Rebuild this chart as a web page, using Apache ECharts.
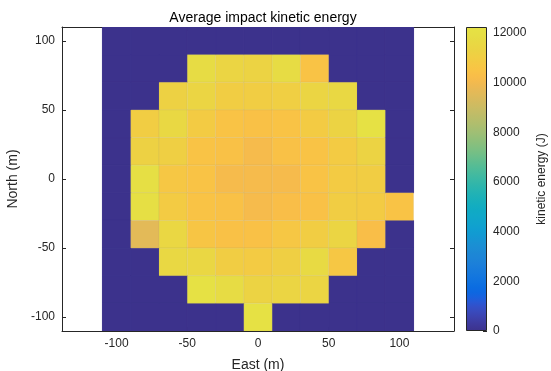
<!DOCTYPE html>
<html>
<head>
<meta charset="utf-8">
<title>Average impact kinetic energy</title>
<script src="https://cdn.jsdelivr.net/npm/echarts@6/dist/echarts.min.js"></script>
<style>
  html, body { margin: 0; padding: 0; background: #fff; }
  #chart { width: 551px; height: 371px; }
</style>
</head>
<body>
<div id="chart"></div>
<script>
// Cell centres (m) of the impact grid
const eastCenters = [-100, -80, -60, -40, -20, 0, 20, 40, 60, 80, 100];
const northCenters = [100, 80, 60, 40, 20, 0, -20, -40, -60, -80, -100];

// Average impact kinetic energy (J), one row per northCenters entry, one column per eastCenters entry
const energyN100 = [0, 0, 0, 0, 0, 0, 0, 0, 0, 0, 0];
const energyN80  = [0, 0, 0, 11800, 11400, 11300, 11800, 10500, 0, 0, 0];
const energyN60  = [0, 0, 11200, 11400, 11000, 11000, 11050, 11400, 11600, 0, 0];
const energyN40  = [0, 11000, 11600, 10900, 10500, 10400, 10500, 10900, 11300, 12100, 0];
const energyN20  = [0, 11200, 11100, 10500, 10400, 10100, 10400, 10500, 10900, 11300, 0];
const energyN0   = [0, 12000, 10700, 10500, 10100, 10100, 10100, 10500, 10900, 11000, 0];
const energyS20  = [0, 12000, 10900, 10500, 10400, 10100, 10300, 10400, 11000, 10900, 10500];
const energyS40  = [0, 9600, 11500, 10600, 10400, 10400, 10700, 11000, 11400, 10300, 0];
const energyS60  = [0, 0, 11600, 11500, 11000, 10900, 11100, 11700, 10700, 0, 0];
const energyS80  = [0, 0, 0, 12100, 11800, 11300, 11400, 11400, 0, 0, 0];
const energyS100 = [0, 0, 0, 0, 0, 12100, 0, 0, 0, 0, 0];
const energyRows = [energyN100, energyN80, energyN60, energyN40, energyN20, energyN0,
                    energyS20, energyS40, energyS60, energyS80, energyS100];

// Axis tick labels
const eastTicks = [-100, -50, 0, 50, 100];
const northTicks = [-100, -50, 0, 50, 100];
const energyTicks = [0, 2000, 4000, 6000, 8000, 10000, 12000];
const energyMax = 12240;

// Parula colour map (64 entries, RGB 0..1)
const parulaRGB = [
  [0.2081,0.1663,0.5292],[0.2116,0.1898,0.5777],[0.2123,0.2138,0.6270],[0.2081,0.2386,0.6771],
  [0.1959,0.2645,0.7279],[0.1707,0.2919,0.7792],[0.1253,0.3242,0.8303],[0.0591,0.3598,0.8683],
  [0.0117,0.3875,0.8820],[0.0060,0.4086,0.8828],[0.0165,0.4266,0.8786],[0.0329,0.4430,0.8720],
  [0.0498,0.4586,0.8641],[0.0629,0.4737,0.8554],[0.0723,0.4887,0.8467],[0.0779,0.5040,0.8384],
  [0.0793,0.5200,0.8312],[0.0749,0.5375,0.8263],[0.0641,0.5570,0.8240],[0.0488,0.5772,0.8228],
  [0.0343,0.5966,0.8199],[0.0265,0.6137,0.8135],[0.0239,0.6287,0.8038],[0.0231,0.6418,0.7913],
  [0.0228,0.6535,0.7768],[0.0267,0.6642,0.7607],[0.0384,0.6743,0.7436],[0.0590,0.6838,0.7254],
  [0.0843,0.6928,0.7062],[0.1133,0.7015,0.6859],[0.1453,0.7098,0.6646],[0.1801,0.7177,0.6424],
  [0.2178,0.7250,0.6193],[0.2586,0.7317,0.5954],[0.3022,0.7376,0.5712],[0.3482,0.7424,0.5473],
  [0.3953,0.7459,0.5244],[0.4420,0.7481,0.5033],[0.4871,0.7491,0.4840],[0.5300,0.7491,0.4661],
  [0.5709,0.7485,0.4494],[0.6099,0.7473,0.4337],[0.6473,0.7456,0.4188],[0.6834,0.7435,0.4044],
  [0.7184,0.7411,0.3905],[0.7525,0.7384,0.3768],[0.7858,0.7356,0.3633],[0.8185,0.7327,0.3498],
  [0.8507,0.7299,0.3360],[0.8824,0.7274,0.3217],[0.9139,0.7258,0.3063],[0.9450,0.7261,0.2886],
  [0.9739,0.7314,0.2666],[0.9938,0.7455,0.2403],[0.9990,0.7653,0.2164],[0.9955,0.7861,0.1967],
  [0.9880,0.8066,0.1794],[0.9789,0.8271,0.1633],[0.9697,0.8481,0.1475],[0.9626,0.8705,0.1309],
  [0.9589,0.8949,0.1132],[0.9598,0.9218,0.0948],[0.9661,0.9514,0.0755],[0.9763,0.9831,0.0538]
];

// Muted print tones: a light overall tint plus a stronger softening of the yellow end
const tint = [200, 190, 230];
const tintWeight = 0.05;
const warm = [200, 190, 150];
const warmStart = 52;
const warmWeight = 0.35;
const parula = parulaRGB.map(function (c, idx) {
  const t = Math.max(0, (idx - warmStart) / (parulaRGB.length - 1 - warmStart)) * warmWeight;
  const ch = c.map(function (v, i) {
    let x = v * 255 * (1 - tintWeight) + tint[i] * tintWeight;
    x = x * (1 - t) + warm[i] * t;
    return Math.round(x);
  });
  return 'rgb(' + ch.join(',') + ')';
});

const cellW = eastCenters[1] - eastCenters[0];
const cellH = northCenters[0] - northCenters[1];

const cells = [];
northCenters.forEach(function (n, r) {
  eastCenters.forEach(function (e, c) {
    cells.push([e, n, energyRows[r][c]]);
  });
});

const font = 'Liberation Sans, Arial, Helvetica, sans-serif';
const ink = '#262626';

const chart = echarts.init(document.getElementById('chart'), null, { renderer: 'canvas' });

const tickStyle = { show: true, inside: true, length: 4, lineStyle: { color: ink, width: 1 } };
const lineStyle = { show: true, onZero: false, lineStyle: { color: ink, width: 1 } };

chart.setOption({
  backgroundColor: '#ffffff',
  animation: false,
  title: {
    text: 'Average impact kinetic energy',
    left: 258, top: 6, textAlign: 'center',
    textStyle: { fontFamily: font, fontSize: 14, fontWeight: 'normal', color: '#000' }
  },
  grid: [
    { left: 62, right: 97, top: 27, bottom: 40, containLabel: false, outerBoundsMode: 'none' },
    { left: 466, top: 27, width: 21, height: 304, containLabel: false, outerBoundsMode: 'none' }
  ],
  visualMap: {
    type: 'continuous', show: false, min: 0, max: energyMax,
    dimension: 2, seriesIndex: 0,
    inRange: { color: parula }
  },
  xAxis: [
    {
      type: 'value', gridIndex: 0, min: -138.6, max: 138.6, position: 'bottom',
      name: 'East (m)', nameLocation: 'middle', nameGap: 27,
      nameTextStyle: { fontFamily: font, fontSize: 14, color: ink },
      axisLine: lineStyle,
      axisTick: Object.assign({ customValues: eastTicks }, tickStyle),
      axisLabel: { customValues: eastTicks, fontFamily: font, fontSize: 12, color: ink, margin: 7 },
      splitLine: { show: false }
    },
    {
      type: 'value', gridIndex: 0, min: -138.6, max: 138.6, position: 'top',
      axisLine: lineStyle,
      axisTick: Object.assign({ customValues: eastTicks }, tickStyle),
      axisLabel: { show: false },
      splitLine: { show: false }
    },
    {
      type: 'category', gridIndex: 1, data: [''],
      axisLine: { show: false }, axisTick: { show: false }, axisLabel: { show: false }
    }
  ],
  yAxis: [
    {
      type: 'value', gridIndex: 0, min: -110, max: 110, position: 'left',
      name: 'North (m)', nameLocation: 'middle', nameGap: 30, nameRotate: 90,
      nameTextStyle: { fontFamily: font, fontSize: 14, color: ink },
      axisLine: lineStyle,
      axisTick: Object.assign({ customValues: northTicks }, tickStyle),
      axisLabel: { customValues: northTicks, fontFamily: font, fontSize: 12, color: ink, margin: 7 },
      splitLine: { show: false }
    },
    {
      type: 'value', gridIndex: 0, min: -110, max: 110, position: 'right',
      axisLine: lineStyle,
      axisTick: Object.assign({ customValues: northTicks }, tickStyle),
      axisLabel: { show: false },
      splitLine: { show: false }
    },
    {
      type: 'value', gridIndex: 1, min: 0, max: energyMax, position: 'right',
      name: 'kinetic energy (J)', nameLocation: 'middle', nameGap: 49, nameRotate: 90,
      nameTextStyle: { fontFamily: font, fontSize: 12, color: ink },
      axisLine: { show: false },
      axisTick: Object.assign({ customValues: energyTicks }, tickStyle),
      axisLabel: {
        customValues: energyTicks, fontFamily: font, fontSize: 12, color: ink, margin: 6,
        formatter: function (v) { return String(v); }
      },
      splitLine: { show: false }
    }
  ],
  series: [
    {
      type: 'custom',
      xAxisIndex: 0, yAxisIndex: 0,
      data: cells,
      encode: { x: 0, y: 1 },
      clip: true,
      renderItem: function (params, api) {
        const e = api.value(0), n = api.value(1), v = api.value(2);
        const p0 = api.coord([e - cellW / 2, n + cellH / 2]);
        const p1 = api.coord([e + cellW / 2, n - cellH / 2]);
        const fill = api.visual('color');
        return {
          type: 'rect',
          z2: v > 0 ? 2 : 1,
          shape: { x: p0[0], y: p0[1], width: p1[0] - p0[0], height: p1[1] - p0[1] },
          style: {
            fill: fill,
            stroke: v > 0 ? 'rgba(175,160,110,0.3)' : fill,
            lineWidth: v > 0 ? 0.5 : 1
          }
        };
      }
    },
    {
      type: 'bar',
      xAxisIndex: 2, yAxisIndex: 2,
      data: [energyMax],
      barWidth: '100%',
      silent: true,
      itemStyle: {
        borderColor: ink, borderWidth: 1,
        color: new echarts.graphic.LinearGradient(0, 1, 0, 0,
          parula.map(function (c, i) { return { offset: i / (parula.length - 1), color: c }; }))
      }
    }
  ]
});
</script>
</body>
</html>
